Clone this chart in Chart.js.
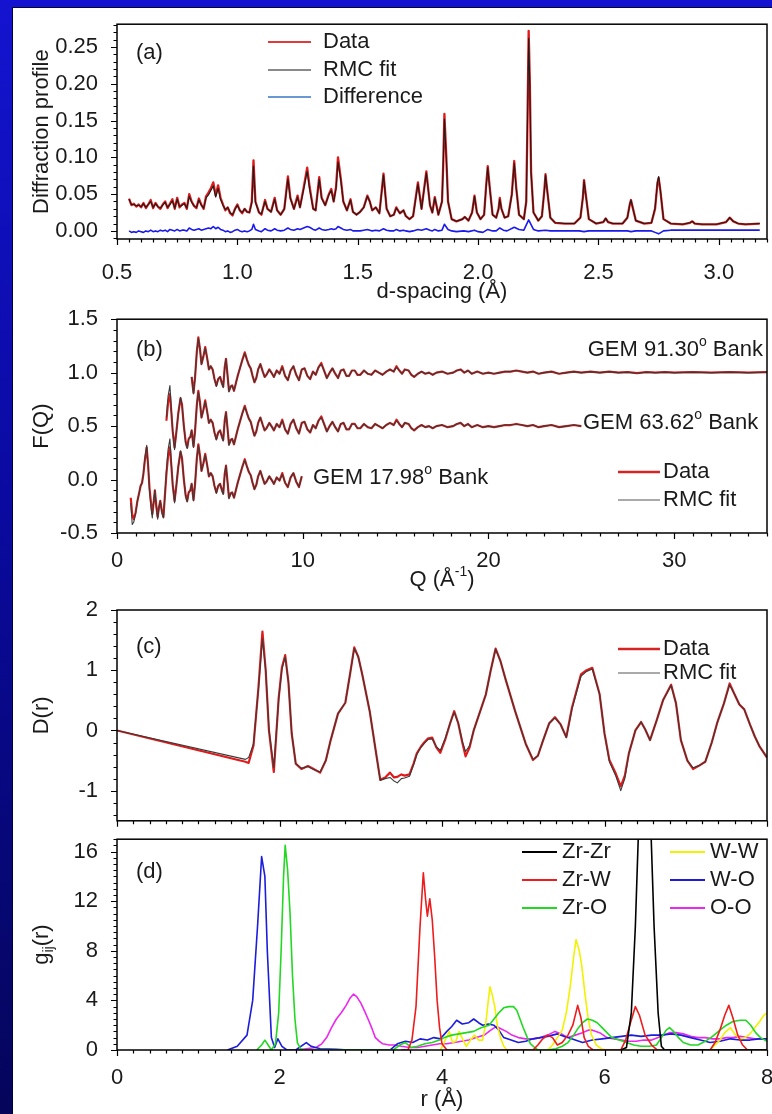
<!DOCTYPE html>
<html>
<head>
<meta charset="utf-8">
<script src="https://cdn.jsdelivr.net/npm/chart.js@4.4.0/dist/chart.umd.min.js"></script>
<style>
  html, body { margin: 0; padding: 0; }
  body {
    width: 772px; height: 1114px; overflow: hidden; position: relative;
    background: linear-gradient(to bottom, #1414d0 0%, #0a0aa0 45%, #05055a 100%);
  }
  #sheet {
    position: absolute; left: 12px; top: 7px; right: 0; bottom: 0;
    background: #fff; border-left: 1px solid #000038; border-top: 1px solid #000038;
  }
  canvas { position: absolute; left: 0; }
</style>
</head>
<body>
<div id="sheet"></div>
<canvas id="panelA" width="790" height="310" style="top:0px"></canvas>
<canvas id="panelB" width="790" height="305" style="top:295px"></canvas>
<canvas id="panelC" width="790" height="260" style="top:585px"></canvas>
<canvas id="panelD" width="790" height="299" style="top:815px"></canvas>
<script>
// ---- (a) diffraction profile vs d-spacing ----
const dSpacing = [
  0.55,0.56,0.57,0.58,0.59,0.60,0.61,0.62,0.63,0.64,
  0.65,0.66,0.67,0.68,0.69,0.70,0.71,0.72,0.73,0.74,
  0.75,0.76,0.77,0.78,0.79,0.80,0.81,0.82,0.83,0.84,
  0.85,0.86,0.87,0.88,0.89,0.90,0.91,0.92,0.93,0.94,
  0.95,0.96,0.97,0.98,0.99,1.00,1.01,1.02,1.03,1.04,
  1.05,1.06,1.067,1.075,1.09,1.10,1.115,1.125,1.14,1.155,
  1.165,1.18,1.195,1.21,1.22,1.235,1.25,1.26,1.275,1.29,
  1.30,1.315,1.325,1.34,1.35,1.365,1.38,1.39,1.40,1.41,
  1.418,1.43,1.44,1.455,1.47,1.48,1.495,1.51,1.525,1.54,
  1.55,1.56,1.575,1.59,1.607,1.62,1.635,1.65,1.66,1.675,
  1.69,1.70,1.715,1.73,1.75,1.765,1.785,1.80,1.81,1.82,
  1.835,
  1.85,1.855,1.86,1.868,1.875,1.89,1.91,1.935,1.945,1.96,
  1.975,1.985,1.995,2.01,2.025,2.033,2.04,2.048,2.06,2.075,
  2.085,2.09,2.097,2.11,2.125,2.14,2.15,2.158,2.17,2.19,
  2.2,2.205,2.21,2.215,2.22,2.23,2.25,2.265,2.275,2.28,
  2.287,2.30,2.32,2.36,2.40,2.425,2.435,2.44,2.447,2.46,
  2.49,2.52,2.53,2.54,2.56,2.60,2.62,2.63,2.635,2.642,
  2.655,2.69,2.72,2.735,2.745,2.75,2.757,2.77,2.80,2.85,
  2.88,2.89,2.90,2.93,2.99,3.03,3.045,3.06,3.08,3.11,
  3.17
];
const profileData = [
  0.044,0.035,0.037,0.033,0.036,0.032,0.038,0.031,0.036,0.042,
  0.031,0.038,0.033,0.030,0.036,0.040,0.031,0.037,0.043,0.030,
  0.045,0.032,0.036,0.038,0.030,0.050,0.040,0.034,0.031,0.044,
  0.036,0.030,0.047,0.052,0.058,0.066,0.048,0.062,0.045,0.036,
  0.028,0.032,0.024,0.021,0.030,0.036,0.028,0.024,0.030,0.026,
  0.025,0.040,0.096,0.040,0.025,0.022,0.042,0.030,0.026,0.045,
  0.028,0.022,0.030,0.074,0.045,0.030,0.048,0.032,0.058,0.086,
  0.060,0.030,0.028,0.073,0.045,0.035,0.050,0.057,0.040,0.060,
  0.100,0.070,0.040,0.028,0.043,0.026,0.022,0.026,0.032,0.048,
  0.040,0.028,0.032,0.024,0.078,0.030,0.020,0.022,0.032,0.024,
  0.028,0.020,0.016,0.020,0.066,0.030,0.081,0.035,0.025,0.046,
  0.022,
  0.040,0.090,0.159,0.100,0.040,0.016,0.013,0.016,0.019,0.014,
  0.025,0.048,0.025,0.016,0.022,0.060,0.088,0.060,0.022,0.018,
  0.030,0.045,0.030,0.018,0.020,0.050,0.095,0.060,0.022,0.016,
  0.040,0.150,0.272,0.200,0.080,0.025,0.014,0.020,0.055,0.077,
  0.055,0.018,0.011,0.010,0.010,0.018,0.045,0.069,0.050,0.016,
  0.010,0.012,0.017,0.012,0.010,0.010,0.018,0.036,0.042,0.032,
  0.014,0.010,0.011,0.030,0.065,0.072,0.055,0.016,0.010,0.009,
  0.011,0.013,0.010,0.009,0.009,0.012,0.018,0.013,0.010,0.009,
  0.010
];
const profileFit = [
  0.043,0.036,0.036,0.034,0.035,0.033,0.037,0.032,0.036,0.040,
  0.032,0.037,0.033,0.031,0.035,0.039,0.032,0.036,0.041,0.031,
  0.043,0.033,0.035,0.037,0.031,0.047,0.039,0.034,0.032,0.042,
  0.035,0.031,0.045,0.049,0.055,0.061,0.046,0.058,0.043,0.035,
  0.029,0.032,0.025,0.022,0.029,0.035,0.028,0.025,0.030,0.026,
  0.025,0.038,0.088,0.039,0.025,0.023,0.040,0.030,0.026,0.043,
  0.028,0.022,0.030,0.071,0.044,0.030,0.046,0.032,0.056,0.081,
  0.057,0.030,0.028,0.070,0.044,0.035,0.049,0.055,0.040,0.058,
  0.094,0.068,0.040,0.028,0.042,0.026,0.022,0.026,0.032,0.047,
  0.040,0.028,0.032,0.024,0.076,0.030,0.020,0.022,0.031,0.024,
  0.028,0.020,0.016,0.020,0.064,0.030,0.079,0.035,0.025,0.045,
  0.022,
  0.040,0.088,0.152,0.097,0.040,0.016,0.013,0.016,0.019,0.014,
  0.025,0.047,0.025,0.016,0.022,0.058,0.086,0.059,0.022,0.018,
  0.030,0.043,0.030,0.018,0.020,0.049,0.092,0.059,0.022,0.016,
  0.040,0.145,0.262,0.195,0.080,0.025,0.014,0.020,0.054,0.076,
  0.055,0.018,0.011,0.010,0.010,0.018,0.045,0.068,0.050,0.016,
  0.010,0.012,0.017,0.012,0.010,0.010,0.018,0.036,0.042,0.032,
  0.014,0.010,0.011,0.031,0.066,0.074,0.056,0.016,0.010,0.009,
  0.011,0.013,0.010,0.009,0.009,0.012,0.018,0.013,0.010,0.009,
  0.010
];
// the difference curve is sampled on its own, coarser grid
const diffSpacing = [
  0.55,0.56,0.57,0.58,0.59,0.60,0.61,0.62,0.63,0.64,
  0.65,0.66,0.67,0.68,0.69,0.70,0.71,0.72,0.73,0.74,
  0.75,0.76,0.77,0.78,0.79,0.80,0.81,0.82,0.83,0.84,
  0.85,0.86,0.87,0.88,0.89,0.90,0.91,0.92,0.93,0.94,
  0.95,0.96,0.97,0.98,0.99,1.00,1.01,1.02,1.03,1.04,
  1.05,1.06,1.067,1.075,1.09,1.10,1.115,1.125,1.14,1.155,
  1.165,1.18,1.195,1.21,1.22,1.235,1.25,1.26,1.275,1.29,
  1.30,1.315,1.325,1.34,1.35,1.365,1.38,1.39,1.40,1.41,
  1.418,1.43,1.44,1.455,1.47,1.48,1.495,1.51,1.525,1.54,
  1.55,1.56,1.575,1.59,1.607,1.62,1.635,1.65,1.66,1.675,
  1.69,1.70,1.715,1.73,1.75,1.765,1.785,1.80,1.81,1.82,
  1.835,1.85,1.86,1.875,1.89,1.91,1.94,1.96,1.985,2.00,
  2.02,2.04,2.06,2.075,2.09,2.105,2.12,2.15,2.17,2.19,
  2.21,2.23,2.25,2.28,2.30,2.32,2.36,2.40,2.42,2.44,
  2.46,2.49,2.53,2.56,2.60,2.62,2.635,2.655,2.69,2.72,
  2.735,2.75,2.77,2.80,2.85,2.89,2.93,2.99,3.02,3.045,
  3.07,3.11,3.17
];
const profileDiff = [
  0.000,-0.002,-0.001,-0.002,0.000,-0.001,-0.002,0.000,-0.001,0.001,
  -0.001,0.000,-0.001,0.001,0.000,0.001,-0.001,0.002,0.001,0.000,
  0.002,0.000,0.001,0.001,0.000,0.004,0.002,0.001,0.002,0.003,
  0.001,0.002,0.003,0.004,0.003,0.006,0.003,0.005,0.002,0.001,
  -0.001,0.000,-0.002,-0.001,0.001,0.002,0.000,-0.001,0.000,-0.001,
  0.000,0.002,0.009,0.002,0.000,-0.001,0.003,0.001,0.000,0.003,
  0.001,0.000,0.001,0.004,0.002,0.001,0.003,0.002,0.004,0.006,
  0.005,0.002,0.001,0.004,0.002,0.001,0.002,0.003,0.002,0.003,
  0.006,0.004,0.002,0.001,0.002,0.000,0.000,0.000,0.001,0.002,
  0.001,0.000,0.001,0.000,0.003,0.001,0.000,0.000,0.002,0.000,
  0.001,0.000,-0.001,0.000,0.002,0.001,0.003,0.001,0.000,0.002,
  0.000,0.001,0.009,0.002,0.000,-0.001,0.000,-0.001,0.001,-0.001,
  -0.002,0.002,0.000,0.000,0.004,0.001,0.000,0.005,0.002,0.001,
  0.015,0.002,0.000,0.001,0.000,0.000,0.000,0.000,0.000,-0.001,
  0.000,0.000,0.000,0.000,0.000,0.000,-0.001,0.000,0.000,0.000,
  -0.002,-0.004,0.000,0.001,0.001,0.001,0.001,0.001,0.001,0.001,
  0.001,0.001,0.001
];

// ---- (b) F(Q) for the three GEM banks (shown with vertical offsets) ----
const qGrid = [
  0.74,0.82,0.90,1.0,1.1,1.2,1.27,1.35,1.42,1.5,
  1.6,1.68,1.75,1.82,1.9,1.97,2.04,2.12,2.19,2.26,
  2.33,2.42,2.5,2.58,2.66,2.75,2.85,2.93,3.0,3.1,
  3.2,3.3,3.42,3.5,3.6,3.7,3.78,3.86,3.95,4.02,
  4.12,4.2,4.3,4.38,4.47,4.55,4.65,4.75,4.85,4.95,
  5.05,5.15,5.25,5.35,5.45,5.55,5.65,5.72,5.8,5.87,
  5.95,6.03,6.12,6.2,6.3,6.4,6.5,6.6,6.75,6.88,
  7.0,7.1,7.2,7.3,7.4,7.5,7.6,7.72,7.85,7.95,
  8.05,8.2,8.35,8.45,8.6,8.75,8.9,9.05,9.2,9.35,
  9.5,9.65,9.8,9.95,10.1,10.25,10.4,10.55,10.7,10.85,
  11.0,11.15,11.3,11.45,11.6,11.75,11.9,12.05,12.2,12.35,
  12.5,12.65,12.8,12.95,13.1,13.3,13.5,13.7,13.9,14.1,
  14.3,14.5,14.7,14.9,15.05,15.2,15.35,15.5,15.7,15.85,
  16.0,16.2,16.4,16.6,16.8,17.0,17.2,17.5,17.8,18.1,
  18.3,18.5,18.7,18.9,19.1,19.4,19.7,20.0,20.3,20.6,
  20.9,21.2,21.5,21.8,22.1,22.4,22.7,23.0,23.4,23.8,
  24.2,24.6,25.0,25.5,26.0,26.5,27.0,27.5,28.0,28.5,
  29.0,29.5,30.0,31.0,32.0,33.0,34.0,35.0
];
const fqData = [
  -0.17,-0.33,-0.37,-0.31,-0.20,-0.12,-0.06,-0.03,0.05,0.18,
  0.30,0.12,-0.08,-0.20,-0.32,-0.22,-0.10,-0.25,-0.35,-0.26,
  -0.20,-0.30,-0.35,-0.15,0.05,0.22,0.30,0.12,-0.05,-0.20,
  -0.05,0.12,0.26,0.20,0.00,-0.15,-0.20,-0.12,-0.10,-0.04,
  -0.19,-0.05,0.20,0.33,0.22,0.08,0.15,0.24,0.14,0.03,
  0.06,0.03,-0.06,-0.12,-0.06,-0.04,-0.10,-0.13,0.05,0.13,
  -0.02,-0.17,-0.13,-0.12,-0.17,-0.10,-0.03,0.03,0.12,0.19,
  0.12,0.07,0.04,-0.03,-0.09,-0.05,0.03,0.08,0.01,-0.04,
  -0.02,0.03,-0.01,-0.04,0.02,-0.01,0.06,-0.03,-0.07,0.02,
  0.06,-0.02,-0.07,0.03,0.04,-0.03,-0.06,0.01,-0.02,0.05,
  0.09,0.02,-0.05,0.00,0.04,-0.01,-0.05,0.02,0.03,-0.03,
  -0.03,0.02,0.02,-0.02,-0.02,0.02,-0.01,-0.02,0.02,0.00,
  -0.02,0.01,0.03,0.01,0.06,0.02,-0.01,0.03,0.02,-0.02,
  -0.04,-0.01,0.01,-0.01,0.00,-0.02,0.00,0.01,-0.01,0.00,
  0.02,0.03,0.00,0.02,-0.01,0.01,-0.01,0.00,-0.01,0.00,
  0.01,0.01,0.02,0.01,0.00,0.01,-0.01,0.00,0.01,-0.01,
  0.00,0.01,0.00,0.01,0.00,0.01,0.00,0.005,-0.005,0.005,
  0.00,0.005,0.00,0.005,0.00,0.005,0.00,0.005
];
const fqFit = [
  -0.22,-0.42,-0.40,-0.32,-0.20,-0.12,-0.06,-0.03,0.05,0.20,
  0.32,0.12,-0.10,-0.24,-0.36,-0.22,-0.10,-0.27,-0.37,-0.26,
  -0.20,-0.31,-0.36,-0.15,0.08,0.28,0.38,0.14,-0.05,-0.22,
  -0.05,0.12,0.27,0.20,0.00,-0.16,-0.21,-0.12,-0.10,-0.04,
  -0.20,-0.05,0.20,0.32,0.22,0.08,0.15,0.23,0.14,0.03,
  0.06,0.03,-0.06,-0.13,-0.06,-0.04,-0.10,-0.14,0.05,0.13,
  -0.02,-0.18,-0.13,-0.12,-0.17,-0.10,-0.03,0.03,0.12,0.18,
  0.12,0.07,0.04,-0.03,-0.09,-0.05,0.03,0.08,0.01,-0.04,
  -0.02,0.03,-0.01,-0.04,0.02,-0.01,0.05,-0.03,-0.07,0.02,
  0.06,-0.02,-0.07,0.03,0.04,-0.03,-0.06,0.01,-0.02,0.05,
  0.08,0.02,-0.05,0.00,0.04,-0.01,-0.05,0.02,0.03,-0.03,
  -0.03,0.02,0.02,-0.02,-0.02,0.02,-0.01,-0.02,0.02,0.00,
  -0.02,0.01,0.03,0.01,0.05,0.02,-0.01,0.03,0.02,-0.02,
  -0.04,-0.01,0.01,-0.01,0.00,-0.02,0.00,0.01,-0.01,0.00,
  0.02,0.03,0.00,0.02,-0.01,0.01,-0.01,0.00,-0.01,0.00,
  0.01,0.01,0.02,0.01,0.00,0.01,-0.01,0.00,0.01,-0.01,
  0.00,0.01,0.00,0.01,0.00,0.01,0.00,0.005,-0.005,0.005,
  0.00,0.005,0.00,0.005,0.00,0.005,0.00,0.005
];
const gemBanks = [
  { name: '17.98', qMin: 0.7, qMax: 10.0, offset: 0.0 },
  { name: '63.62', qMin: 2.6, qMax: 25.0, offset: 0.5 },
  { name: '91.30', qMin: 4.0, qMax: 35.0, offset: 1.0 }
];

// ---- (c) D(r), data and RMC fit ----
const dOfRData = [
  [0,0],[1.58,-0.52],[1.62,-0.54],[1.68,-0.25],[1.74,0.7],[1.79,1.64],[1.83,1.0],[1.87,0.0],[1.93,-0.69],[1.99,0.54],
  [2.03,1.05],[2.07,1.25],[2.11,0.8],[2.15,-0.05],[2.2,-0.55],[2.27,-0.64],[2.35,-0.59],[2.42,-0.64],[2.5,-0.70],[2.57,-0.5],
  [2.63,-0.16],[2.72,0.28],[2.81,0.46],[2.87,0.95],[2.92,1.38],[2.97,1.22],[3.02,0.92],[3.11,0.32],[3.18,-0.3],[3.24,-0.82],
  [3.3,-0.78],[3.36,-0.70],[3.41,-0.78],[3.45,-0.77],[3.5,-0.73],[3.54,-0.75],[3.6,-0.73],[3.65,-0.55],[3.69,-0.38],[3.74,-0.27],
  [3.78,-0.20],[3.83,-0.13],[3.88,-0.12],[3.93,-0.28],[3.98,-0.37],[4.04,-0.15],[4.1,0.12],[4.15,0.32],[4.2,0.12],[4.25,-0.2],
  [4.29,-0.43],[4.34,-0.28],[4.39,0.0],[4.46,0.28],[4.54,0.6],[4.6,1.0],[4.66,1.36],[4.72,1.15],[4.78,0.86],[4.9,0.32],
  [5.03,-0.22],[5.12,-0.49],[5.18,-0.42],[5.24,-0.18],[5.32,0.12],[5.39,0.22],[5.46,0.1],[5.53,-0.11],[5.6,0.38],[5.71,0.93],
  [5.78,1.0],[5.85,1.04],[5.94,0.6],[6.0,-0.05],[6.06,-0.49],[6.14,-0.72],[6.2,-0.93],[6.25,-0.75],[6.3,-0.38],[6.38,0.0],
  [6.45,0.14],[6.5,0.02],[6.56,-0.16],[6.64,0.16],[6.72,0.5],[6.82,0.76],[6.88,0.45],[6.94,-0.16],[7.02,-0.5],[7.09,-0.64],
  [7.17,-0.58],[7.24,-0.52],[7.32,-0.2],[7.39,0.14],[7.47,0.45],[7.54,0.78],[7.6,0.6],[7.66,0.43],[7.72,0.35],[7.79,0.1],
  [7.85,-0.1],[7.91,-0.27],[8.0,-0.45]
];
const dOfRFit = [
  [0,0],[1.58,-0.48],[1.62,-0.45],[1.68,-0.22],[1.74,0.68],[1.79,1.52],[1.83,1.0],[1.87,0.02],[1.93,-0.62],[1.99,0.52],
  [2.03,1.02],[2.07,1.22],[2.11,0.8],[2.15,-0.04],[2.2,-0.55],[2.27,-0.63],[2.35,-0.6],[2.42,-0.65],[2.5,-0.69],[2.57,-0.5],
  [2.63,-0.16],[2.72,0.28],[2.81,0.46],[2.87,0.95],[2.92,1.36],[2.97,1.22],[3.02,0.92],[3.11,0.32],[3.18,-0.3],[3.24,-0.83],
  [3.3,-0.80],[3.36,-0.78],[3.41,-0.84],[3.45,-0.87],[3.5,-0.80],[3.54,-0.79],[3.6,-0.76],[3.65,-0.57],[3.69,-0.40],[3.74,-0.28],
  [3.78,-0.22],[3.83,-0.15],[3.88,-0.14],[3.93,-0.27],[3.98,-0.33],[4.04,-0.13],[4.1,0.12],[4.15,0.30],[4.2,0.12],[4.25,-0.18],
  [4.29,-0.35],[4.34,-0.25],[4.39,0.0],[4.46,0.28],[4.54,0.6],[4.6,1.0],[4.66,1.35],[4.72,1.15],[4.78,0.86],[4.9,0.32],
  [5.03,-0.22],[5.12,-0.48],[5.18,-0.42],[5.24,-0.18],[5.32,0.12],[5.39,0.21],[5.46,0.1],[5.53,-0.12],[5.6,0.36],[5.71,0.9],
  [5.78,0.98],[5.85,1.02],[5.94,0.6],[6.0,-0.05],[6.06,-0.52],[6.14,-0.76],[6.2,-1.0],[6.25,-0.8],[6.3,-0.38],[6.38,0.0],
  [6.45,0.14],[6.5,0.02],[6.56,-0.16],[6.64,0.16],[6.72,0.5],[6.82,0.75],[6.88,0.45],[6.94,-0.16],[7.02,-0.5],[7.09,-0.62],
  [7.17,-0.58],[7.24,-0.52],[7.32,-0.2],[7.39,0.14],[7.47,0.45],[7.54,0.76],[7.6,0.6],[7.66,0.43],[7.72,0.35],[7.79,0.1],
  [7.85,-0.1],[7.91,-0.27],[8.0,-0.45]
];

// ---- (d) partial pair distribution functions g_ij(r) ----
const gZrZr = [[6.2,0],[6.27,0.2],[6.33,3],[6.38,10],[6.42,18],[6.47,24],[6.52,24],[6.57,18],[6.61,10],[6.66,3],[6.7,0.3],[6.74,0],[8.0,0]];
const gZrW = [
  [3.5,0],[3.58,0],[3.63,0.8],[3.68,3.5],[3.73,10],[3.77,14.3],[3.8,12],[3.82,10.8],[3.85,12.2],[3.88,10.5],
  [3.91,7.5],[3.94,4],[3.97,1.8],[4.0,0.5],[4.06,0],[5.12,0],[5.18,0.4],[5.24,0.9],[5.3,1.2],[5.36,1.0],
  [5.42,0.4],[5.48,0.6],[5.55,1.2],[5.61,2.0],[5.67,3.6],[5.71,2.6],[5.75,1.0],[5.8,0.3],[5.86,0],[6.2,0],
  [6.26,0.8],[6.32,2.2],[6.38,3.5],[6.43,2.8],[6.5,1.2],[6.58,0.4],[6.65,0],[7.3,0],[7.36,0.6],[7.42,1.6],
  [7.48,2.8],[7.53,3.6],[7.58,2.6],[7.64,1.2],[7.7,0.4],[7.76,0],[8.0,0]
];
const gZrO = [
  [1.72,0],[1.78,0.4],[1.82,0.8],[1.86,0.4],[1.9,0],[1.95,0.5],[1.99,3],[2.02,8],[2.05,14],[2.07,16.5],
  [2.1,14.5],[2.13,11],[2.16,6],[2.19,2.5],[2.22,0.6],[2.26,0.1],[2.3,0],[3.4,0],[3.48,0.4],[3.55,0.6],
  [3.62,0.2],[3.7,0.3],[3.79,0.5],[3.88,0.6],[3.97,0.8],[4.03,1.0],[4.12,1.2],[4.21,1.3],[4.3,1.4],[4.39,1.5],
  [4.48,1.8],[4.58,2.0],[4.64,2.5],[4.7,3.0],[4.76,3.4],[4.82,3.5],[4.88,3.5],[4.92,3.2],[4.96,2.5],[5.0,1.8],
  [5.05,1.0],[5.09,0.5],[5.14,0.2],[5.18,0],[5.3,0],[5.4,0.1],[5.48,0.3],[5.55,0.6],[5.62,1.2],[5.68,1.8],
  [5.73,2.2],[5.79,2.5],[5.85,2.4],[5.91,2.2],[5.97,1.8],[6.03,1.4],[6.09,1.0],[6.18,0.8],[6.27,0.6],[6.36,0.4],
  [6.45,0.3],[6.55,0.3],[6.64,0.4],[6.7,1.0],[6.76,1.6],[6.8,1.8],[6.85,1.5],[6.91,1.0],[6.97,0.6],[7.06,0.4],
  [7.15,0.4],[7.24,0.7],[7.33,1.1],[7.42,1.6],[7.5,2.0],[7.58,2.3],[7.67,2.4],[7.74,2.4],[7.8,2.0],[7.86,1.4],
  [7.92,1.0],[8.0,0.7]
];
const gWW = [
  [3.98,0],[4.04,0.8],[4.09,1.5],[4.13,0.6],[4.17,0.7],[4.21,1.5],[4.26,0.8],[4.3,0.3],[4.35,0.8],[4.4,1.2],
  [4.45,0.8],[4.5,0.8],[4.54,2.2],[4.57,4.0],[4.59,5.1],[4.62,4.4],[4.65,3.5],[4.68,2.0],[4.72,1.0],[4.76,0.3],
  [4.8,0],[5.3,0],[5.36,0.4],[5.42,1.0],[5.48,1.6],[5.53,3.0],[5.58,5.2],[5.62,7.5],[5.65,8.9],[5.69,8.0],
  [5.72,6.8],[5.76,4.5],[5.8,2.5],[5.84,1.2],[5.9,0.4],[5.96,0.1],[6.02,0],[7.3,0],[7.36,0.4],[7.42,0.8],
  [7.48,1.4],[7.55,1.8],[7.6,1.3],[7.67,0.9],[7.73,1.0],[7.79,1.3],[7.85,1.8],[7.91,2.3],[7.96,2.8],[8.0,3.0]
];
const gWO = [
  [1.36,0],[1.48,0.3],[1.6,1.2],[1.67,4],[1.73,10],[1.78,15.6],[1.82,14],[1.85,8],[1.9,1],[1.94,0.2],
  [1.98,0.9],[2.03,0.3],[2.09,0],[2.2,0],[2.33,0.6],[2.39,0.3],[2.5,0.1],[2.7,0.05],[2.85,0],[3.36,0],
  [3.45,0.5],[3.55,0.7],[3.64,0.6],[3.73,0.9],[3.82,0.8],[3.9,1.0],[3.98,0.9],[4.06,1.5],[4.12,1.9],[4.18,2.4],
  [4.25,2.1],[4.33,2.2],[4.39,2.5],[4.45,2.2],[4.5,2.0],[4.57,2.1],[4.64,2.0],[4.7,1.6],[4.76,1.0],[4.85,0.8],
  [4.94,0.6],[5.03,0.7],[5.12,0.9],[5.21,1.0],[5.3,1.1],[5.42,1.3],[5.5,1.1],[5.55,1.0],[5.64,0.8],[5.73,0.6],
  [5.85,0.8],[5.97,0.9],[6.09,1.0],[6.21,1.1],[6.33,1.2],[6.45,1.1],[6.58,1.2],[6.7,1.2],[6.82,1.3],[6.94,1.2],
  [7.06,1.0],[7.18,0.8],[7.3,0.6],[7.42,0.7],[7.55,0.9],[7.67,0.8],[7.79,0.8],[7.9,0.9],[8.0,0.9]
];
const gOO = [
  [2.2,0],[2.33,0.1],[2.45,0.2],[2.52,0.5],[2.58,1.0],[2.64,1.8],[2.7,2.5],[2.76,3.0],[2.82,3.6],[2.87,4.2],
  [2.91,4.5],[2.95,4.3],[3.0,3.8],[3.05,3.1],[3.09,2.5],[3.14,1.7],[3.18,1.0],[3.23,0.7],[3.27,0.5],[3.35,0.4],
  [3.42,0.4],[3.5,0.3],[3.6,0.2],[3.7,0.2],[3.79,0.3],[3.88,0.4],[3.97,0.5],[4.06,0.5],[4.15,0.6],[4.24,0.7],
  [4.33,0.8],[4.42,1.0],[4.52,1.2],[4.6,1.6],[4.67,1.9],[4.73,1.7],[4.79,1.5],[4.86,1.2],[4.94,1.0],[5.03,0.9],
  [5.12,0.9],[5.21,1.0],[5.3,1.2],[5.39,1.5],[5.47,1.3],[5.55,1.0],[5.64,1.2],[5.73,1.4],[5.8,1.6],[5.85,1.6],
  [5.94,1.4],[6.03,1.0],[6.12,0.9],[6.21,0.8],[6.3,0.7],[6.39,0.7],[6.48,0.8],[6.58,0.8],[6.66,1.0],[6.73,1.2],
  [6.8,1.4],[6.88,1.4],[6.97,1.3],[7.06,1.1],[7.15,1.0],[7.24,1.0],[7.33,0.9],[7.42,0.9],[7.5,1.0],[7.58,1.0],
  [7.67,1.1],[7.76,1.0],[7.85,0.9],[7.92,0.9],[8.0,0.9]
];

const FONT = "'Liberation Sans', Arial, Helvetica, sans-serif";
const INK = '#1a1a1a';
Chart.defaults.font.family = FONT;
Chart.defaults.font.size = 22;
Chart.defaults.color = INK;

const zip = (xs, ys, off = 0) => xs.map((x, i) => ({ x, y: ys[i] + off }));
const pairs = list => list.map(([x, y]) => ({ x, y }));

function line(points, color, width) {
  return { data: points, borderColor: color, borderWidth: width, pointRadius: 0,
           fill: false, tension: 0, borderJoinStyle: 'round' };
}

// text made of pieces, some of them raised or lowered (units, subscripts)
function richText(ctx, parts, x, y, angle = 0, align = 'center') {
  const segs = (typeof parts === 'string' ? [{ t: parts }] : parts).map(p => {
    const size = (p.sub || p.sup) ? 14 : 22;
    ctx.font = `${size}px ${FONT}`;
    return { ...p, size, w: ctx.measureText(p.t).width };
  });
  const total = segs.reduce((s, p) => s + p.w, 0);
  let cx = align === 'left' ? 0 : align === 'right' ? -total : -total / 2;
  ctx.save();
  ctx.translate(x, y);
  ctx.rotate(angle);
  ctx.textAlign = 'left';
  ctx.textBaseline = 'middle';
  for (const p of segs) {
    ctx.font = `${p.size}px ${FONT}`;
    ctx.fillText(p.t, cx, p.sub ? 7 : p.sup ? -8 : 0);
    cx += p.w;
  }
  ctx.restore();
}

function tickMarks(ctx, scale, spec, area) {
  if (!spec) return;
  const horiz = scale.isHorizontal();
  const first = Math.ceil(scale.min / spec.minor - 1e-6);
  const last = Math.floor(scale.max / spec.minor + 1e-6);
  ctx.beginPath();
  for (let k = first; k <= last; k++) {
    const v = k * spec.minor;
    const r = v / spec.major;
    const len = Math.abs(r - Math.round(r)) < 1e-6 ? 6 : 3.5;
    const p = Math.round(scale.getPixelForValue(v)) + 0.5;
    if (horiz) { ctx.moveTo(p, area.bottom); ctx.lineTo(p, area.bottom + len); }
    else { ctx.moveTo(area.left, p); ctx.lineTo(area.left - len, p); }
  }
  ctx.stroke();
}

// frame, minor ticks, axis titles, legend and labels
const panelDecor = {
  id: 'panelDecor',
  afterDraw(chart, args, o) {
    const { ctx, chartArea: a, scales } = chart;
    ctx.save();
    ctx.strokeStyle = '#000';
    ctx.lineWidth = 1.5;
    ctx.strokeRect(a.left, a.top, a.right - a.left, a.bottom - a.top);
    ctx.lineWidth = 1.2;
    tickMarks(ctx, scales.x, o.xTicks, a);
    tickMarks(ctx, scales.y, o.yTicks, a);
    ctx.fillStyle = INK;
    if (o.yTitle) richText(ctx, o.yTitle, 42, (a.top + a.bottom) / 2, -Math.PI / 2);
    if (o.xTitle) richText(ctx, o.xTitle, (a.left + a.right) / 2, o.xTitleY);
    for (const n of o.notes || []) richText(ctx, n.parts, n.x, n.y, 0, n.align || 'left');
    for (const it of o.legend || []) {
      ctx.strokeStyle = it.color;
      ctx.lineWidth = it.width;
      ctx.beginPath();
      ctx.moveTo(it.x0, it.y);
      ctx.lineTo(it.x1, it.y);
      ctx.stroke();
      ctx.fillStyle = INK;
      richText(ctx, it.label, it.tx, it.y, 0, 'left');
    }
    ctx.restore();
  }
};

// canvases are 790 wide; the plot frame ends at x = 767
function panel(id, cfg) {
  return new Chart(document.getElementById(id), {
    type: 'line',
    data: { datasets: cfg.datasets },
    options: {
      responsive: false,
      animation: false,
      events: [],
      layout: { padding: { top: cfg.plotTop, right: 23, left: 0, bottom: 0 } },
      plugins: { legend: { display: false }, tooltip: { enabled: false }, panelDecor: cfg.decor },
      scales: {
        x: {
          type: 'linear', min: cfg.x.min, max: cfg.x.max,
          grid: { display: false }, border: { display: false },
          ticks: { display: cfg.x.labels !== false, stepSize: cfg.x.step, includeBounds: false,
                   autoSkip: false, maxRotation: 0, padding: cfg.x.pad || 0, callback: cfg.x.fmt },
          afterFit: s => { s.height = cfg.axisH; }
        },
        y: {
          type: 'linear', min: cfg.y.min, max: cfg.y.max,
          grid: { display: false }, border: { display: false },
          ticks: { stepSize: cfg.y.step, includeBounds: false, autoSkip: false,
                   padding: 11, callback: cfg.y.fmt },
          afterFit: s => { s.width = 117; }
        }
      }
    },
    plugins: [panelDecor]
  });
}

const RED = '#e01a1a';
const FIT = '#1c1c1c';

// (a)
panel('panelA', {
  plotTop: 21, axisH: 71,
  x: { min: 0.5, max: 3.2, step: 0.5, pad: 13, fmt: v => v.toFixed(1) },
  y: { min: -0.011, max: 0.281, step: 0.05, fmt: v => v.toFixed(2) },
  datasets: [
    line(zip(dSpacing, profileFit), FIT, 1.1),
    line(zip(dSpacing, profileData), RED, 2.3),
    line(zip(diffSpacing, profileDiff), '#1a1aee', 1.6)
  ],
  decor: {
    xTicks: { major: 0.5, minor: 0.05 }, yTicks: { major: 0.05, minor: 0.01 },
    yTitle: 'Diffraction profile', xTitle: 'd-spacing (Å)', xTitleY: 292,
    notes: [{ parts: '(a)', x: 136, y: 53 }],
    legend: [
      { label: 'Data', color: '#e03a3a', width: 2, x0: 268, x1: 311, tx: 323, y: 42 },
      { label: 'RMC fit', color: '#8a8a8a', width: 2, x0: 268, x1: 311, tx: 323, y: 70 },
      { label: 'Difference', color: '#6a98d2', width: 2, x0: 268, x1: 311, tx: 323, y: 97 }
    ]
  }
});

// (b)
const bankSets = [];
for (const b of gemBanks) {
  const keep = p => p.x >= b.qMin && p.x <= b.qMax;
  bankSets.push(line(zip(qGrid, fqFit, b.offset).filter(keep), '#3a3a3a', 1.1));
  bankSets.push(line(zip(qGrid, fqData, b.offset).filter(keep), RED, 2.2));
}
const deg = (num) => [{ t: 'GEM ' + num }, { t: 'o', sup: true }, { t: ' Bank' }];
panel('panelB', {
  plotTop: 20, axisH: 67,
  x: { min: 0, max: 35, step: 10, pad: 7, fmt: v => String(v) },
  y: { min: -0.5, max: 1.5, step: 0.5, fmt: v => v.toFixed(1) },
  datasets: bankSets,
  decor: {
    xTicks: { major: 10, minor: 1 }, yTicks: { major: 0.5, minor: 0.1 },
    yTitle: 'F(Q)',
    xTitle: [{ t: 'Q (Å' }, { t: '-1', sup: true }, { t: ')' }], xTitleY: 285,
    notes: [
      { parts: '(b)', x: 136, y: 55 },
      { parts: deg('91.30'), x: 763, y: 55, align: 'right' },
      { parts: deg('63.62'), x: 583, y: 128 },
      { parts: deg('17.98'), x: 313, y: 183 }
    ],
    legend: [
      { label: 'Data', color: '#d42424', width: 2.5, x0: 618, x1: 660, tx: 663, y: 177 },
      { label: 'RMC fit', color: '#555', width: 1, x0: 618, x1: 660, tx: 663, y: 205 }
    ]
  }
});

// (c)
panel('panelC', {
  plotTop: 25, axisH: 19,
  x: { min: 0, max: 8, step: 2, labels: false },
  y: { min: -1.5, max: 2, step: 1, fmt: v => String(v) },
  datasets: [
    line(pairs(dOfRFit), '#3a3a3a', 1.1),
    line(pairs(dOfRData), RED, 2.2)
  ],
  decor: {
    xTicks: { major: 2, minor: 0.2 }, yTicks: { major: 1, minor: 0.2 },
    yTitle: 'D(r)',
    notes: [{ parts: '(c)', x: 136, y: 62 }],
    legend: [
      { label: 'Data', color: '#d42424', width: 2.5, x0: 618, x1: 660, tx: 663, y: 64 },
      { label: 'RMC fit', color: '#555', width: 1, x0: 618, x1: 660, tx: 663, y: 88 }
    ]
  }
});

// (d)
const PAIRS = [
  { label: 'Zr-Zr', data: gZrZr, color: '#000000' },
  { label: 'Zr-W', data: gZrW, color: '#ee1c1c' },
  { label: 'Zr-O', data: gZrO, color: '#22d822' },
  { label: 'W-W', data: gWW, color: '#f2f200' },
  { label: 'W-O', data: gWO, color: '#1c1cdc' },
  { label: 'O-O', data: gOO, color: '#ec28ec' }
];
panel('panelD', {
  plotTop: 18, axisH: 64,
  x: { min: 0, max: 8, step: 2, pad: 7, fmt: v => String(v) },
  y: { min: 0, max: 17, step: 4, fmt: v => String(v) },
  datasets: PAIRS.map(p => line(pairs(p.data), p.color, 1.6)),
  decor: {
    xTicks: { major: 2, minor: 0.2 }, yTicks: { major: 4, minor: 0.5 },
    yTitle: [{ t: 'g' }, { t: 'ij', sub: true }, { t: '(r)' }],
    xTitle: 'r (Å)', xTitleY: 285,
    notes: [{ parts: '(d)', x: 136, y: 57 }],
    legend: PAIRS.map((p, i) => {
      const col = i < 3 ? 0 : 1;
      const x0 = col ? 670 : 522;
      return { label: p.label, color: p.color, width: 2, x0, x1: x0 + 35, tx: x0 + 40, y: 37 + (i % 3) * 28 };
    })
  }
});
</script>
</body>
</html>
